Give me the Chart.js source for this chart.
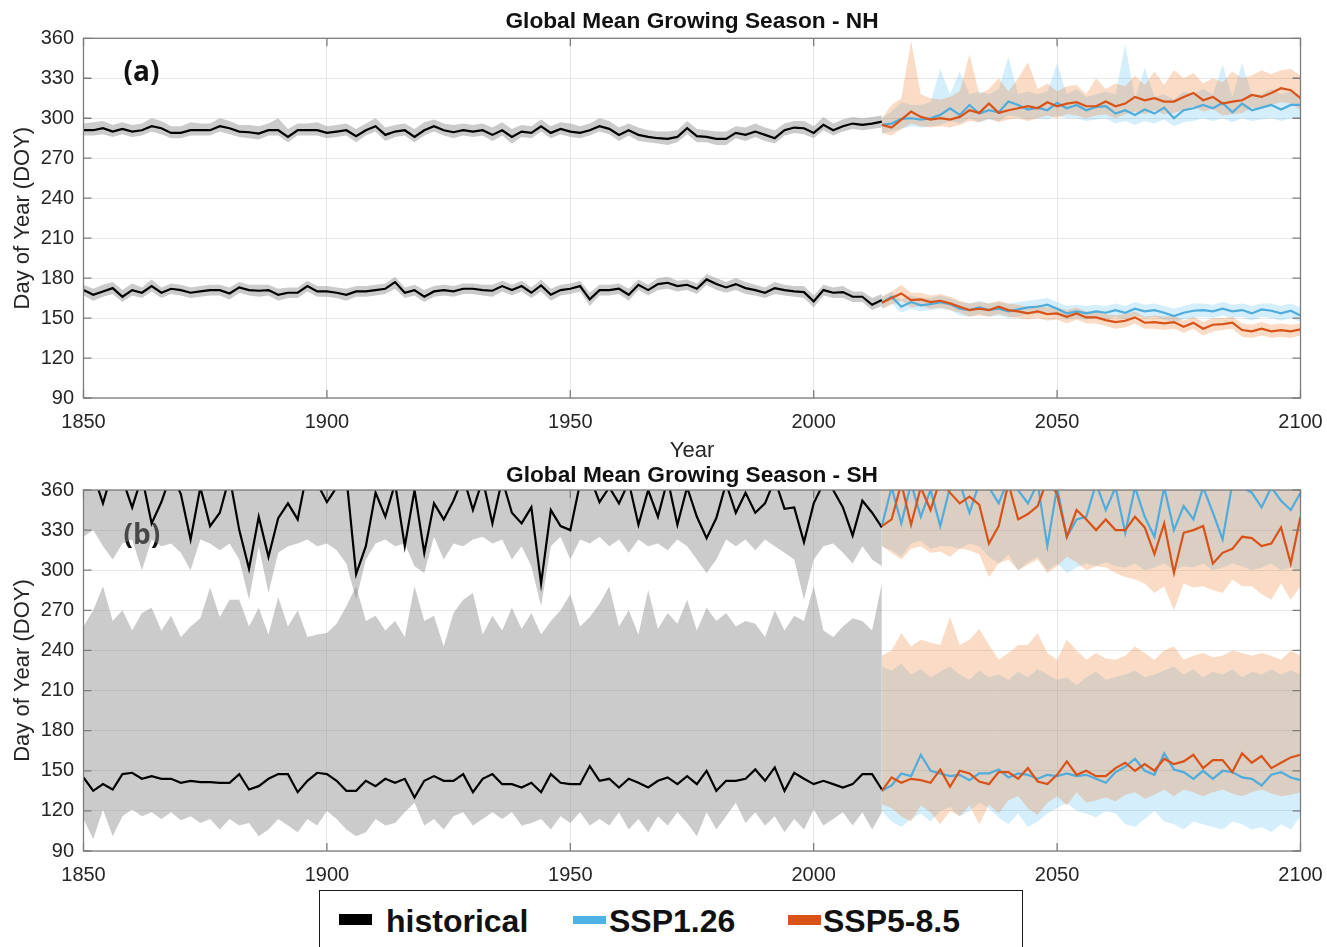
<!DOCTYPE html>
<html>
<head>
<meta charset="utf-8">
<title>Global Mean Growing Season</title>
<script src="https://cdn.jsdelivr.net/npm/chart.js@4.4.1/dist/chart.umd.min.js"></script>
<style>
  body { margin: 0; background: #fff; width: 1327px; height: 947px; overflow: hidden; position: relative;
         font-family: "Liberation Sans", Arial, sans-serif; }
  .panel { position: absolute; left: 0; width: 1327px; }
  #nh { top: 0; height: 470px; }
  #sh { top: 455px; height: 430px; }
  #legend { position: absolute; left: 319px; top: 890px; width: 704px; height: 80px;
            border: 1.5px solid #1a1a1a; box-sizing: border-box; }
  .sw { position: absolute; }
  .lbl { position: absolute; top: 905px; font: bold 32px "Liberation Sans", Arial, sans-serif;
         line-height: 32px; color: #111; white-space: nowrap; }
</style>
</head>
<body>
<div class="panel" id="nh"><canvas id="nhChart"></canvas></div>
<div class="panel" id="sh"><canvas id="shChart"></canvas></div>
<div id="legend"></div>
<div class="sw" style="left:339px;top:914px;width:33px;height:11px;background:#000"></div>
<div class="lbl" style="left:386px">historical</div>
<div class="sw" style="left:573px;top:916px;width:33px;height:8px;background:#4db3e6"></div>
<div class="lbl" style="left:609px">SSP1.26</div>
<div class="sw" style="left:788px;top:915px;width:33px;height:10px;background:#d95319"></div>
<div class="lbl" style="left:823px">SSP5-8.5</div>

<script>
// every series is sampled every 2 years
const STEP = 2;
const histStart = 1850;   // 1850..2014
const projStart = 2014;   // 2014..2100

// ---- NH: end of season (upper curves) ----
const nhEosHist = [
  291, 291, 292.5, 290, 292, 290, 291, 294, 292.5, 289,
  289, 291, 291, 291, 294, 292.5, 290, 289.5, 288.5, 291,
  291, 286, 291, 291, 291, 289, 290, 291, 286.5, 291,
  294, 287.5, 290, 291, 286, 291, 294, 291, 289.5, 291,
  290, 291, 287.5, 291, 286, 290, 289, 294, 289, 292,
  290, 289, 291, 294, 292, 287.5, 291, 287.5, 286, 285,
  284.5, 286, 292.5, 286.5, 286, 284.5, 284.5, 289, 287.5, 290,
  287.5, 285, 291, 293, 292.5, 289, 295, 291, 294, 296,
  295, 296, 297.5
];
const nhEosHistHi = [
  296, 297, 298, 295, 297, 295, 296, 300, 298, 294,
  294, 297, 296, 296, 300, 298, 295, 295, 294, 296,
  300, 292, 296, 296, 297, 294, 295, 296, 292, 296,
  300, 293, 295, 296, 292, 297, 299, 296, 295, 296,
  295, 296, 293, 297, 292, 295, 294, 299, 294, 297,
  296, 294, 296, 300, 298, 293, 296, 293, 291, 290,
  290, 291, 298, 292, 291, 290, 290, 294, 293, 296,
  293, 291, 296, 298, 298, 294, 301, 296, 299, 301,
  300, 301, 302
];
const nhEosHistLo = [
  287, 287, 288, 286, 288, 286, 287, 290, 288, 285,
  285, 287, 287, 287, 290, 288, 286, 285, 284, 287,
  287, 282, 287, 287, 287, 285, 286, 287, 282, 287,
  290, 283, 286, 287, 282, 287, 290, 287, 285, 287,
  286, 287, 283, 287, 281, 286, 285, 290, 285, 288,
  286, 285, 287, 290, 288, 283, 287, 283, 282, 281,
  280, 282, 288, 282, 282, 280, 280, 285, 283, 286,
  283, 281, 287, 289, 288, 285, 291, 287, 290, 292,
  291, 292, 293
];
const nhEos126 = [
  295, 296, 299.5, 300, 299, 300, 302.5, 307.5, 302.5, 310,
  303.5, 306, 304.5, 312.5, 310, 306.5, 308, 306, 311.5, 307.5,
  310, 306, 308.5, 309, 303.5, 306, 302.5, 306.5, 303.5, 308,
  300, 306, 307.5, 310, 307.5, 311.5, 304.5, 311, 306, 308,
  310, 306.5, 310, 310
];
const nhEos126Hi = [
  300, 305, 312, 310, 310, 312, 337, 318, 335, 318,
  320, 318, 322, 346, 318, 320, 318, 320, 341, 318,
  322, 316, 318, 320, 318, 356, 315, 338, 316, 318,
  314, 320, 318, 322, 318, 340, 316, 341, 318, 318,
  322, 318, 320, 318
];
const nhEos126Lo = [
  289, 290, 292, 294, 293, 294, 295, 298, 296, 300,
  297, 299, 298, 302, 301, 299, 300, 299, 302, 300,
  300, 298, 299, 300, 296, 298, 295, 298, 296, 299,
  294, 297, 298, 300, 298, 300, 297, 300, 298, 299,
  300, 298, 300, 300
];
const nhEos585 = [
  295, 293, 299, 305, 301, 299, 300, 299, 301, 306,
  304, 311, 304, 306, 307.5, 309, 307.5, 312, 309, 311,
  312, 309, 309, 312.5, 309, 311, 316, 313.5, 315, 312.5,
  312.5, 316, 319, 313.5, 316, 311, 312.5, 313.5, 317.5, 316,
  319, 322.5, 321, 315
];
const nhEos585Hi = [
  300, 310, 315, 358, 318, 315, 314, 316, 320, 348,
  318, 322, 330, 320, 330, 342, 322, 326, 320, 324,
  325, 318, 330, 322, 326, 324, 332, 325, 335, 325,
  336, 330, 334, 326, 330, 327, 335, 330, 332, 336,
  333, 336, 337, 332
];
const nhEos585Lo = [
  289, 287, 292, 296, 294, 293, 294, 293, 295, 298,
  297, 300, 297, 299, 300, 298, 300, 302, 300, 303,
  302, 300, 302, 303, 300, 303, 305, 303, 306, 303,
  304, 306, 309, 305, 307, 302, 303, 304, 308, 307,
  310, 312, 311, 306
];

// ---- NH: start of season (lower curves) ----
const nhSosHist = [
  171, 167.5, 170, 172.5, 166, 171, 169, 174, 169, 172,
  171, 169, 170, 171, 171, 168.5, 173, 171, 170.5, 171,
  167.5, 169, 169, 174, 170, 170, 169, 167.5, 170, 170,
  171, 172, 177, 169, 171, 166, 170, 171, 170, 172,
  172, 171, 170.5, 174, 171, 174, 169, 174.5, 167.5, 171,
  172, 174, 164, 171, 171, 172, 167.5, 175, 171, 175.5,
  176.5, 174, 175, 172, 179, 175.5, 173, 175.5, 172.5, 171,
  169, 172.5, 171, 170, 169.5, 162.5, 171, 169, 169.5, 166,
  166, 160, 163.5
];
const nhSosHistHi = [
  175, 172, 175, 177, 171, 176, 173, 179, 173, 176,
  175, 173, 174, 175, 175, 173, 177, 175, 175, 175,
  172, 173, 173, 178, 174, 174, 173, 172, 174, 174,
  175, 176, 181, 173, 175, 171, 174, 175, 174, 176,
  176, 175, 175, 178, 175, 178, 173, 179, 172, 175,
  176, 178, 169, 175, 175, 176, 172, 179, 175, 180,
  181, 178, 179, 176, 183, 180, 177, 180, 177, 175,
  173, 177, 175, 174, 174, 167, 175, 173, 174, 170,
  170, 165, 168
];
const nhSosHistLo = [
  167, 163, 166, 168, 162, 167, 165, 170, 165, 168,
  167, 165, 166, 167, 167, 164, 169, 167, 166, 167,
  163, 165, 165, 170, 166, 166, 165, 163, 166, 166,
  167, 168, 172, 165, 167, 162, 166, 167, 166, 168,
  168, 167, 166, 170, 167, 170, 165, 170, 163, 167,
  168, 170, 159, 167, 167, 168, 163, 171, 167, 171,
  172, 170, 171, 168, 175, 171, 169, 171, 168, 167,
  165, 168, 167, 166, 165, 158, 167, 165, 165, 162,
  162, 156, 159
];
const nhSos126 = [
  161.5, 166, 158.5, 162, 159.5, 160.5, 162, 160.5, 157, 156,
  158, 156, 157, 155, 156.5, 158, 158.5, 160, 157, 153.5,
  155, 153.5, 155, 154, 156, 154, 157, 155, 156, 154,
  151.5, 154, 155.5, 156, 155, 157, 155, 156, 153.5, 156.5,
  155.5, 153.5, 155.5, 152
];
const nhSos126Hi = [
  166, 170, 164, 167, 165, 165, 167, 165, 162, 161,
  163, 161, 162, 161, 162, 163, 164, 165, 162, 159,
  160, 159, 160, 159, 161, 159, 162, 160, 161, 159,
  157, 159, 161, 161, 160, 162, 160, 161, 159, 161,
  161, 159, 161, 158
];
const nhSos126Lo = [
  157, 161, 154, 157, 155, 156, 157, 156, 152, 151,
  153, 151, 152, 150, 151, 153, 153, 155, 152, 149,
  150, 149, 150, 149, 151, 149, 152, 150, 151, 149,
  147, 149, 150, 151, 150, 152, 150, 151, 148, 151,
  150, 148, 150, 147
];
const nhSos585 = [
  161.5, 165, 168.5, 163.5, 164, 162, 163, 161, 158.5, 156,
  157, 156, 158.5, 156, 155, 153.5, 155, 153, 153.5, 151,
  153.5, 150.5, 150.5, 148.5, 147, 148, 150.5, 146.5, 147, 146,
  147, 143.5, 146.5, 142, 145, 145.5, 146.5, 141, 140, 142,
  140, 141, 140, 141.5
];
const nhSos585Hi = [
  166, 170, 175, 169, 169, 167, 168, 166, 163, 161,
  162, 161, 163, 161, 160, 158, 160, 158, 158, 156,
  158, 155, 155, 153, 152, 153, 155, 151, 152, 151,
  152, 148, 151, 147, 150, 150, 151, 146, 145, 147,
  145, 146, 145, 146
];
const nhSos585Lo = [
  157, 160, 163, 158, 159, 157, 158, 156, 154, 151,
  152, 151, 153, 151, 150, 149, 150, 148, 149, 146,
  149, 146, 146, 144, 142, 143, 146, 142, 142, 141,
  142, 139, 142, 137, 140, 141, 142, 136, 135, 137,
  135, 136, 135, 137
];

// ---- SH: end of season (upper curves, often above 360) ----
const shEosHist = [
  362, 372, 350, 375, 368, 347, 370, 335, 351, 372,
  357, 323, 362, 333, 343, 370, 330, 301, 340, 310,
  339, 350, 338, 375, 365, 351, 362, 370, 297, 318,
  358, 340, 365, 318, 360, 313, 350, 338, 352, 370,
  345, 368, 335, 368, 343, 335, 347, 290, 345, 333,
  330, 365, 370, 351, 362, 350, 366, 334, 360, 340,
  368, 334, 362, 340, 324, 339, 365, 343, 358, 343,
  350, 368, 346, 347, 321, 350, 365, 360, 347, 326,
  352, 343, 332
];
const shEosHistLo = [
  325, 330, 318, 308, 320, 323, 300, 323, 318, 320,
  313, 300, 323, 320, 315, 320, 308, 278, 318, 283,
  313, 318, 320, 323, 318, 320, 315, 305, 278, 308,
  320, 323, 318, 320, 303, 298, 325, 308, 320, 318,
  323, 325, 320, 323, 308, 318, 303, 273, 318, 325,
  308, 323, 320, 325, 318, 323, 313, 323, 318, 320,
  315, 323, 318, 308, 298, 308, 323, 318, 323, 315,
  323, 318, 313, 308, 278, 308, 318, 320, 313, 305,
  318, 308, 303
];
const shEos126 = [
  333, 362, 335, 365, 340, 360, 333, 362, 365, 343,
  365, 362, 350, 368, 360, 350, 365, 318, 362, 325,
  338, 340, 365, 345, 362, 328, 362, 340, 325, 362,
  330, 348, 338, 362, 343, 323, 365, 362, 358, 347,
  362, 352, 345, 358
];
const shEos126Lo = [
  318, 315, 310, 320, 322, 316, 318, 318, 316, 320,
  318, 310, 305, 312, 300, 306, 310, 300, 305, 298,
  302, 305, 303, 306, 303, 302, 305, 300, 302, 305,
  300, 303, 302, 305, 300, 302, 305, 303, 300, 302,
  305, 300, 302, 300
];
const shEos585 = [
  333, 338, 365, 334, 362, 345, 368, 358, 350, 355,
  349, 320, 333, 365, 338, 342, 348, 368, 357, 325,
  345, 338, 330, 338, 330, 330, 340, 332, 312, 335,
  298, 328, 330, 333, 305, 313, 316, 325, 324, 318,
  320, 332, 305, 340
];
const shEos585Lo = [
  318, 313, 308, 316, 318, 313, 314, 310, 316, 315,
  312, 295, 305, 308, 300, 304, 308, 298, 303, 310,
  306, 300, 303, 302, 298, 295, 293, 290, 283, 288,
  270, 290, 287, 288, 285, 283, 293, 288, 288, 282,
  278, 290, 278, 288
];

// ---- SH: start of season (lower curves) ----
const shSosHist = [
  145, 135, 140, 136, 147.5, 148.5, 144, 146, 144, 144,
  141, 142.5, 141.5, 141.5, 141, 141, 147.5, 136, 138.5, 144,
  147.5, 147.5, 134, 142.5, 148.5, 147.5, 142.5, 135, 135, 142.5,
  138.5, 144, 141, 144, 130, 142.5, 146, 142.5, 142.5, 147.5,
  134, 144, 147.5, 140, 140, 137.5, 141, 134, 147.5, 141,
  140, 140, 153.5, 142.5, 144, 137.5, 144, 141, 137.5, 142.5,
  145, 140, 146, 140, 150, 135, 142.5, 142.5, 144, 151,
  142.5, 152.5, 135, 148.5, 144, 140, 142.5, 140, 137.5, 140,
  147.5, 147.5, 136
];
const shSosHistHi = [
  258, 270, 288, 262, 270, 255, 268, 272, 255, 266,
  250, 258, 264, 287, 265, 278, 278, 258, 272, 252,
  280, 258, 270, 250, 252, 253, 260, 273, 288, 262,
  266, 255, 262, 250, 288, 262, 266, 243, 268, 278,
  283, 252, 266, 255, 272, 256, 268, 252, 262, 270,
  282, 258, 265, 275, 288, 258, 270, 252, 285, 256,
  268, 260, 278, 255, 272, 262, 268, 258, 262, 260,
  250, 270, 255, 266, 262, 288, 255, 250, 258, 264,
  262, 255, 290
];
const shSosHistLo = [
  114, 99, 121, 101, 116, 121, 116, 119, 114, 119,
  113, 116, 111, 114, 106, 114, 109, 111, 101, 106,
  114, 109, 104, 114, 109, 120, 114, 106, 101, 104,
  114, 109, 111, 119, 126, 109, 114, 106, 116, 119,
  109, 114, 119, 114, 119, 109, 111, 114, 106, 116,
  111, 119, 109, 114, 109, 119, 106, 114, 104, 116,
  109, 119, 111, 101, 119, 106, 116, 126, 111, 119,
  109, 116, 104, 114, 106, 121, 109, 114, 119, 109,
  119, 106, 119
];
const shSos126 = [
  135, 139, 148, 146, 162, 150, 148, 146, 147, 143,
  148, 148, 151, 145, 148, 147, 144, 147, 146, 148,
  146, 147, 144, 141, 149, 153, 159, 150, 147, 163,
  151, 149, 144, 150, 144, 150, 149, 145, 144, 139,
  147, 149, 145, 143
];
const shSos126Hi = [
  228, 225, 230, 222, 226, 220, 224, 228, 222, 218,
  225, 220, 222, 218, 224, 220, 226, 222, 218, 220,
  214, 220, 224, 218, 220, 222, 225, 220, 222, 225,
  228, 222, 226, 220, 224, 222, 226, 220, 224, 222,
  226, 222, 225, 222
];
const shSos126Lo = [
  120, 112, 108, 114, 118, 112, 120, 123, 116, 120,
  126, 122, 115, 110, 118, 108, 112, 118, 122, 126,
  120, 118, 115, 120, 118, 110, 108, 114, 120, 112,
  110, 106, 112, 110, 108, 106, 112, 110, 106, 108,
  104, 110, 106, 116
];
const shSos585 = [
  135, 145, 141, 144, 143, 141, 151, 138, 150, 148,
  142, 140, 149, 149, 144, 152, 142, 140, 147, 157,
  147, 150, 146, 146, 152, 156, 150, 155, 150, 159,
  155, 157, 162, 152, 158, 158, 149, 163, 156, 161,
  152, 156, 160, 162
];
const shSos585Hi = [
  236, 240, 253, 243, 248, 246, 244, 265, 244, 248,
  256, 244, 233, 238, 244, 244, 253, 238, 233, 248,
  240, 233, 238, 234, 233, 236, 243, 238, 233, 240,
  243, 233, 236, 238, 235, 236, 240, 238, 236, 238,
  236, 233, 240, 236
];
const shSos585Lo = [
  125, 122, 116, 112, 124, 119, 110, 120, 116, 124,
  110, 125, 118, 128, 131, 122, 117, 126, 131, 124,
  134, 126, 128, 130, 127, 132, 134, 129, 132, 136,
  131, 136, 134, 131, 134, 136, 133, 131, 134, 136,
  133, 131, 132, 134
];

const BLACK = '#000000';
const BLUE = '#4facdc';
const ORANGE = '#d95319';
const GREY_BAND = 'rgba(140,140,140,0.45)';
const BLUE_BAND = 'rgba(77,185,238,0.24)';
const ORANGE_BAND = 'rgba(237,125,49,0.28)';

const FONT = '"Liberation Sans", Arial, sans-serif';
const TXT = '#262626';

const pts = (start, vals) => vals.map((v, i) => ({ x: start + STEP * i, y: v }));

function panelDatasets(lines, bands) {
  const ds = [];
  lines.forEach(l => ds.push({
    data: pts(l.start, l.vals), borderColor: l.color, borderWidth: 2.2,
    pointRadius: 0, fill: false, tension: 0
  }));
  bands.forEach(b => {
    const loIdx = ds.length;
    ds.push({
      data: pts(b.start, b.lo), borderColor: 'transparent', borderWidth: 0,
      pointRadius: 0, backgroundColor: b.color, fill: b.hi ? false : 'end'
    });
    if (b.hi) ds.push({
      data: pts(b.start, b.hi), borderColor: 'transparent', borderWidth: 0,
      pointRadius: 0, backgroundColor: b.color, fill: loIdx
    });
  });
  return ds;
}

// title over the axes box, box, inward ticks and the (a)/(b) tag, matlab style
const framePlugin = {
  id: 'frame',
  beforeDatasetsDraw(chart, args, opts) {
    const { ctx, chartArea: a } = chart;
    ctx.save();
    ctx.fillStyle = '#111';
    ctx.textAlign = 'center';
    ctx.textBaseline = 'middle';
    ctx.font = 'bold 22.7px ' + FONT;
    ctx.fillText(opts.title, (a.left + a.right) / 2, opts.titleY);
    ctx.textAlign = 'left';
    ctx.font = 'bold 28px "Open Sans", ' + FONT;
    ctx.fillText(opts.tag, a.left + 40, a.top + opts.tagDy);
    ctx.restore();
  },
  afterDatasetsDraw(chart) {
    const { ctx, chartArea: a, scales: { x, y } } = chart;
    ctx.save();
    ctx.strokeStyle = '#7d7d7d';
    ctx.lineWidth = 1.3;
    ctx.strokeRect(a.left, a.top, a.right - a.left, a.bottom - a.top);
    ctx.beginPath();
    x.ticks.forEach(t => {
      const px = x.getPixelForValue(t.value);
      ctx.moveTo(px, a.bottom); ctx.lineTo(px, a.bottom - 8);
      ctx.moveTo(px, a.top); ctx.lineTo(px, a.top + 8);
    });
    y.ticks.forEach(t => {
      const py = y.getPixelForValue(t.value);
      ctx.moveTo(a.left, py); ctx.lineTo(a.left + 8, py);
      ctx.moveTo(a.right, py); ctx.lineTo(a.right - 8, py);
    });
    ctx.stroke();
    ctx.restore();
  }
};

function makeChart(id, cfg) {
  return new Chart(document.getElementById(id), {
    type: 'line',
    data: { datasets: cfg.datasets },
    plugins: [framePlugin],
    options: {
      responsive: true,
      maintainAspectRatio: false,
      animation: false,
      events: [],
      layout: { padding: { left: 0, right: 26.5, top: cfg.top, bottom: 0 } },
      plugins: {
        legend: { display: false },
        tooltip: { enabled: false },
        title: { display: false },
        frame: { title: cfg.title, titleY: cfg.titleY, tag: cfg.tag, tagDy: cfg.tagDy }
      },
      scales: {
        x: {
          type: 'linear', min: 1850, max: 2100,
          afterFit: s => { s.height = cfg.xHeight; s.paddingLeft = 0; s.paddingRight = 0; },
          grid: { color: '#e6e6e6', drawTicks: false },
          border: { display: false },
          ticks: {
            stepSize: 50, padding: 12, color: TXT, maxRotation: 0,
            font: { family: FONT, size: 20 },
            callback: v => String(v)
          },
          title: {
            display: cfg.xTitle, text: 'Year', color: TXT,
            font: { family: FONT, size: 22, lineHeight: 1.2 },
            padding: { top: 0, bottom: 6 }
          }
        },
        y: {
          min: 90, max: 360,
          afterFit: s => { s.width = 83.5; s.paddingTop = 0; s.paddingBottom = 0; },
          grid: { color: '#e6e6e6', drawTicks: false },
          border: { display: false },
          ticks: {
            stepSize: 30, padding: 9.5, color: TXT,
            font: { family: FONT, size: 20 }
          },
          title: {
            display: true, text: 'Day of Year (DOY)', color: TXT,
            font: { family: FONT, size: 22, lineHeight: 1.2 },
            padding: { top: 10, bottom: 0 }
          }
        }
      }
    }
  });
}

makeChart('nhChart', {
  title: 'Global Mean Growing Season - NH', titleY: 22, top: 38.3,
  tag: '(a)', tagDy: 35,
  xHeight: 72, xTitle: true,
  datasets: panelDatasets(
    [
      { start: projStart, vals: nhEos585, color: ORANGE },
      { start: projStart, vals: nhSos585, color: ORANGE },
      { start: projStart, vals: nhEos126, color: BLUE },
      { start: projStart, vals: nhSos126, color: BLUE },
      { start: histStart, vals: nhEosHist, color: BLACK },
      { start: histStart, vals: nhSosHist, color: BLACK }
    ],
    [
      { start: projStart, lo: nhEos585Lo, hi: nhEos585Hi, color: ORANGE_BAND },
      { start: projStart, lo: nhSos585Lo, hi: nhSos585Hi, color: ORANGE_BAND },
      { start: projStart, lo: nhEos126Lo, hi: nhEos126Hi, color: BLUE_BAND },
      { start: projStart, lo: nhSos126Lo, hi: nhSos126Hi, color: BLUE_BAND },
      { start: histStart, lo: nhEosHistLo, hi: nhEosHistHi, color: GREY_BAND },
      { start: histStart, lo: nhSosHistLo, hi: nhSosHistHi, color: GREY_BAND }
    ]
  )
});

makeChart('shChart', {
  title: 'Global Mean Growing Season - SH', titleY: 21, top: 35,
  tag: '(b)', tagDy: 46,
  xHeight: 34, xTitle: false,
  datasets: panelDatasets(
    [
      { start: projStart, vals: shEos585, color: ORANGE },
      { start: projStart, vals: shSos585, color: ORANGE },
      { start: projStart, vals: shEos126, color: BLUE },
      { start: projStart, vals: shSos126, color: BLUE },
      { start: histStart, vals: shEosHist, color: BLACK },
      { start: histStart, vals: shSosHist, color: BLACK }
    ],
    [
      { start: projStart, lo: shEos585Lo, hi: null, color: ORANGE_BAND },
      { start: projStart, lo: shSos585Lo, hi: shSos585Hi, color: ORANGE_BAND },
      { start: projStart, lo: shEos126Lo, hi: null, color: BLUE_BAND },
      { start: projStart, lo: shSos126Lo, hi: shSos126Hi, color: BLUE_BAND },
      { start: histStart, lo: shEosHistLo, hi: null, color: GREY_BAND },
      { start: histStart, lo: shSosHistLo, hi: shSosHistHi, color: GREY_BAND }
    ]
  )
});
</script>
</body>
</html>
